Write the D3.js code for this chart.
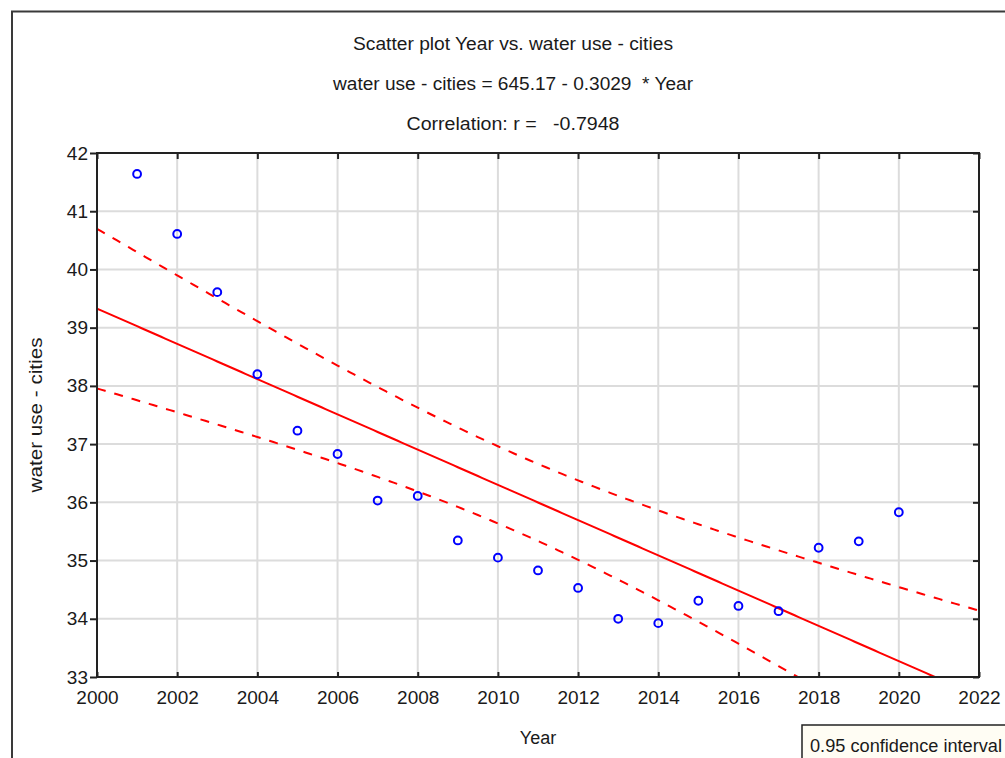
<!DOCTYPE html>
<html>
<head>
<meta charset="utf-8">
<script src="https://cdn.jsdelivr.net/npm/d3@7"></script>
<style>
  html, body { margin: 0; padding: 0; background: #fff; }
  svg { display: block; }
  text { font-family: "Liberation Sans", Arial, sans-serif; fill: #1a1a1a; }
</style>
</head>
<body>
<svg id="chart" width="1005" height="758"></svg>
<script>
// ---- data ----
const years = [2001, 2002, 2003, 2004, 2005, 2006, 2007, 2008, 2009, 2010,
               2011, 2012, 2013, 2014, 2015, 2016, 2017, 2018, 2019, 2020];
const waterUse = [41.64, 40.61, 39.61, 38.20, 37.23, 36.83, 36.03, 36.11, 35.345, 35.05,
                  34.83, 34.53, 34.00, 33.925, 34.31, 34.22, 34.13, 35.22, 35.33, 35.83];
const xTicks = [2000, 2002, 2004, 2006, 2008, 2010, 2012, 2014, 2016, 2018, 2020, 2022];
const yTicks = [33, 34, 35, 36, 37, 38, 39, 40, 41, 42];
const titleLines = [
  "Scatter plot Year vs. water use - cities",
  "water use - cities = 645.17 - 0.3029  * Year",
  "Correlation: r =   -0.7948"
];
const xLabel = "Year";
const yLabel = "water use - cities";
const legendText = "0.95 confidence interval";
const tCrit = 2.1009; // t(0.975, df = 18)

// ---- layout ----
const svg = d3.select("#chart");
const L = 97, R = 979, T = 153, B = 677;
const x = d3.scaleLinear().domain([2000, 2022]).range([L, R]);
const y = d3.scaleLinear().domain([33, 42]).range([B, T]);

// outer frame
svg.append("path").attr("d", "M12,760 L12,11.5 L1010,11.5")
  .attr("fill", "none").attr("stroke", "#3a3a3a").attr("stroke-width", 2);

// titles
const titleY = [50, 90, 130];
const titleW = [320, 360, 213];
titleLines.forEach((t, i) => {
  svg.append("text").attr("x", 513).attr("y", titleY[i])
    .attr("text-anchor", "middle").attr("font-size", 17.5)
    .attr("textLength", titleW[i]).attr("lengthAdjust", "spacingAndGlyphs")
    .attr("xml:space", "preserve")
    .text(t);
});

// grid
const grid = svg.append("g");
grid.selectAll(".gx").data(xTicks.slice(1, -1)).join("line")
  .attr("x1", d => x(d)).attr("x2", d => x(d)).attr("y1", T).attr("y2", B)
  .attr("stroke", "#dcdcdc").attr("stroke-width", 2);
grid.selectAll(".gy").data(yTicks.slice(1, -1)).join("line")
  .attr("x1", L).attr("x2", R).attr("y1", d => y(d)).attr("y2", d => y(d))
  .attr("stroke", "#dcdcdc").attr("stroke-width", 2);

// regression from data
const n = years.length;
const xbar = d3.mean(years), ybar = d3.mean(waterUse);
const Sxx = d3.sum(years, v => (v - xbar) ** 2);
const Sxy = d3.sum(years, (v, i) => (v - xbar) * (waterUse[i] - ybar));
const slope = Sxy / Sxx, intercept = ybar - slope * xbar;
const sse = d3.sum(years, (v, i) => (waterUse[i] - (intercept + slope * v)) ** 2);
const s = Math.sqrt(sse / (n - 2));
const fit = v => intercept + slope * v;
const hw = v => tCrit * s * Math.sqrt(1 / n + (v - xbar) ** 2 / Sxx);
const xs = d3.range(0, 221).map(i => 2000 + i * 0.1);

const defs = svg.append("defs");
defs.append("clipPath").attr("id", "plotclip").append("rect")
  .attr("x", L).attr("y", T).attr("width", R - L).attr("height", B - T);

const plot = svg.append("g").attr("clip-path", "url(#plotclip)");
const line = d3.line().x(d => x(d[0])).y(d => y(d[1]));
plot.append("path").datum(xs.map(v => [v, fit(v)])).attr("d", line)
  .attr("fill", "none").attr("stroke", "#ff0000").attr("stroke-width", 2);
plot.append("path").datum(xs.map(v => [v, fit(v) + hw(v)])).attr("d", line)
  .attr("fill", "none").attr("stroke", "#ff0000").attr("stroke-width", 2)
  .attr("stroke-dasharray", "9,9");
plot.append("path").datum(xs.map(v => [v, fit(v) - hw(v)])).attr("d", line)
  .attr("fill", "none").attr("stroke", "#ff0000").attr("stroke-width", 2)
  .attr("stroke-dasharray", "9,9");

// points
svg.append("g").selectAll("circle").data(years).join("circle")
  .attr("cx", d => x(d)).attr("cy", (d, i) => y(waterUse[i])).attr("r", 3.9)
  .attr("fill", "none").attr("stroke", "#0000ff").attr("stroke-width", 2);

// axes
const axStyle = g => {
  g.select(".domain").remove();
  g.selectAll(".tick line").attr("stroke", "#222").attr("stroke-width", 2);
  g.selectAll(".tick text").attr("font-size", 19)
    .attr("font-family", "'Liberation Sans', Arial, sans-serif").attr("fill", "#1a1a1a");
};
svg.append("g").attr("transform", `translate(0,${B})`)
  .call(d3.axisBottom(x).tickValues(xTicks).tickFormat(d3.format("d")).tickSize(-5).tickPadding(14))
  .call(axStyle);
svg.append("g").attr("transform", `translate(0,${T})`)
  .call(d3.axisTop(x).tickValues(xTicks).tickFormat("").tickSize(-6))
  .call(axStyle);
svg.append("g").attr("transform", `translate(${L},0)`)
  .call(d3.axisLeft(y).tickValues(yTicks).tickFormat(d3.format("d")).tickSize(7).tickPadding(2))
  .call(axStyle);
svg.append("g").attr("transform", `translate(${R},0)`)
  .call(d3.axisRight(y).tickValues(yTicks).tickFormat("").tickSize(-6))
  .call(axStyle);

// plot frame
svg.append("rect").attr("x", L).attr("y", T).attr("width", R - L).attr("height", B - T)
  .attr("fill", "none").attr("stroke", "#222").attr("stroke-width", 2);

// axis titles
svg.append("text").attr("x", x(2011)).attr("y", 744).attr("text-anchor", "middle")
  .attr("font-size", 18).text(xLabel);
svg.append("text").attr("transform", `translate(42,${(T + B) / 2}) rotate(-90)`)
  .attr("text-anchor", "middle").attr("font-size", 18)
  .attr("textLength", 155).attr("lengthAdjust", "spacingAndGlyphs").text(yLabel);

// legend
svg.append("rect").attr("x", 802).attr("y", 725).attr("width", 220).attr("height", 60)
  .attr("fill", "#fffdf4").attr("stroke", "#222").attr("stroke-width", 1.5);
svg.append("text").attr("x", 810).attr("y", 752).attr("font-size", 17.5)
  .attr("textLength", 192).attr("lengthAdjust", "spacingAndGlyphs").text(legendText);
</script>
</body>
</html>
